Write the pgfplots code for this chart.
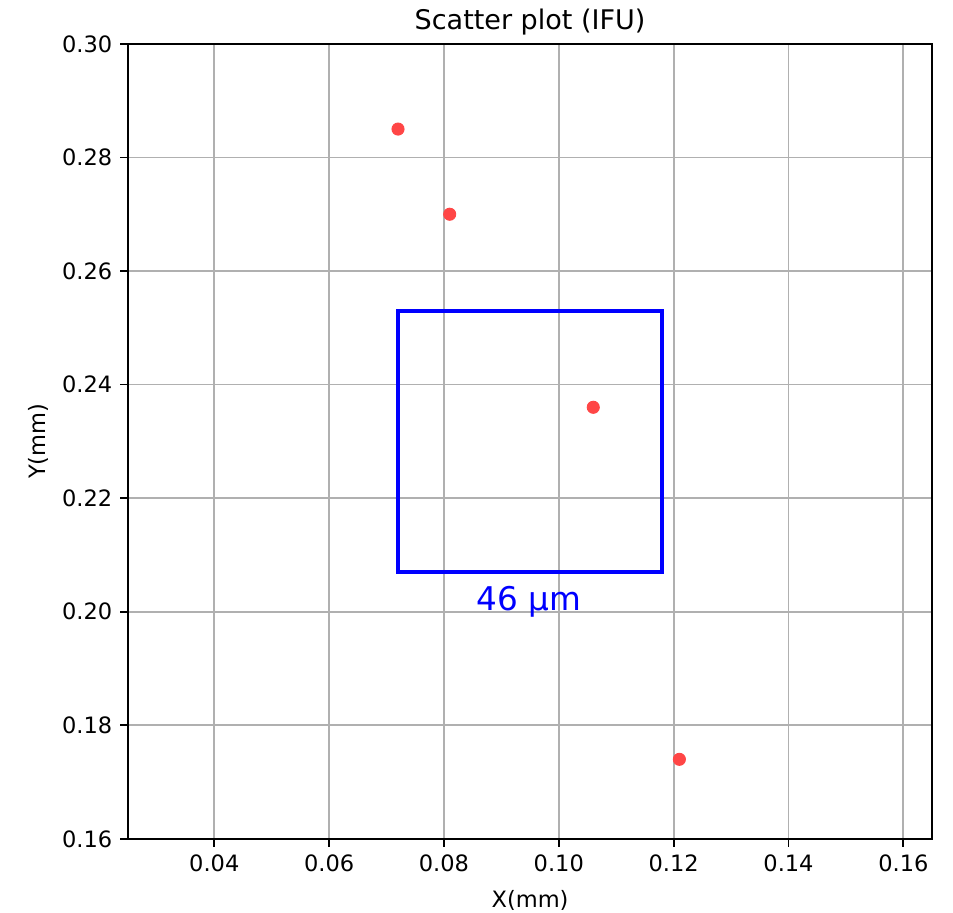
\documentclass[border=0pt]{standalone}
\usepackage{fontspec}
\setmainfont{DejaVu Sans}
\usepackage{pgfplots}
\pgfplotsset{compat=1.18}
\definecolor{markred}{RGB}{255,70,70}
\definecolor{gridgray}{RGB}{176,176,176}
\begin{document}
\begin{tikzpicture}
\begin{axis}[
    name=ax,
    scale only axis,
    width=357pt, height=353pt,
    xmin=0.025, xmax=0.165,
    ymin=0.16, ymax=0.30,
    xtick={0.04,0.06,0.08,0.10,0.12,0.14,0.16},
    ytick={0.16,0.18,0.20,0.22,0.24,0.26,0.28,0.30},
    /pgf/number format/assume math mode=true,
    xticklabel style={/pgf/number format/.cd, fixed, fixed zerofill, precision=2},
    yticklabel style={/pgf/number format/.cd, fixed, fixed zerofill, precision=2},
    scaled ticks=false,
    grid=major,
    grid style={color=gridgray, line width=0.8pt},
    tick align=outside, tick pos=left,
    major tick length=3.5pt,
    axis line style={line width=0.8pt},
    every tick/.style={black, line width=0.8pt},
    font=\fontsize{10}{12}\selectfont,
    title={Scatter plot (IFU)},
    every axis title/.style={font=\fontsize{12}{14}\selectfont, at={(axis description cs:0.5,1.028)}, anchor=center},
    xlabel={X(mm)}, ylabel={Y(mm)},
    xlabel style={at={(axis description cs:0.5,-0.077)}, anchor=center},
    ylabel style={at={(axis description cs:-0.112,0.5)}, anchor=center, rotate=0},
]
\addplot[blue, line width=1.8pt] coordinates {
    (0.072,0.207) (0.118,0.207) (0.118,0.253) (0.072,0.253)
} -- cycle;
\addplot[only marks, color=markred, mark=*, mark size=2.7pt,
    mark options={solid, draw=markred, fill=markred}] coordinates {
    (0.072,0.285)
    (0.081,0.270)
    (0.106,0.236)
    (0.121,0.174)
};
\node[blue, anchor=center, font=\fontsize{14.5}{17}\selectfont] at (axis cs:0.0948,0.2017) {46 µm};
\end{axis}
\pgfresetboundingbox
\path[use as bounding box] ([xshift=-56.9pt,yshift=-32.9pt]ax.south west) rectangle ([xshift=9.3pt,yshift=19.5pt]ax.north east);
\end{tikzpicture}
\end{document}
